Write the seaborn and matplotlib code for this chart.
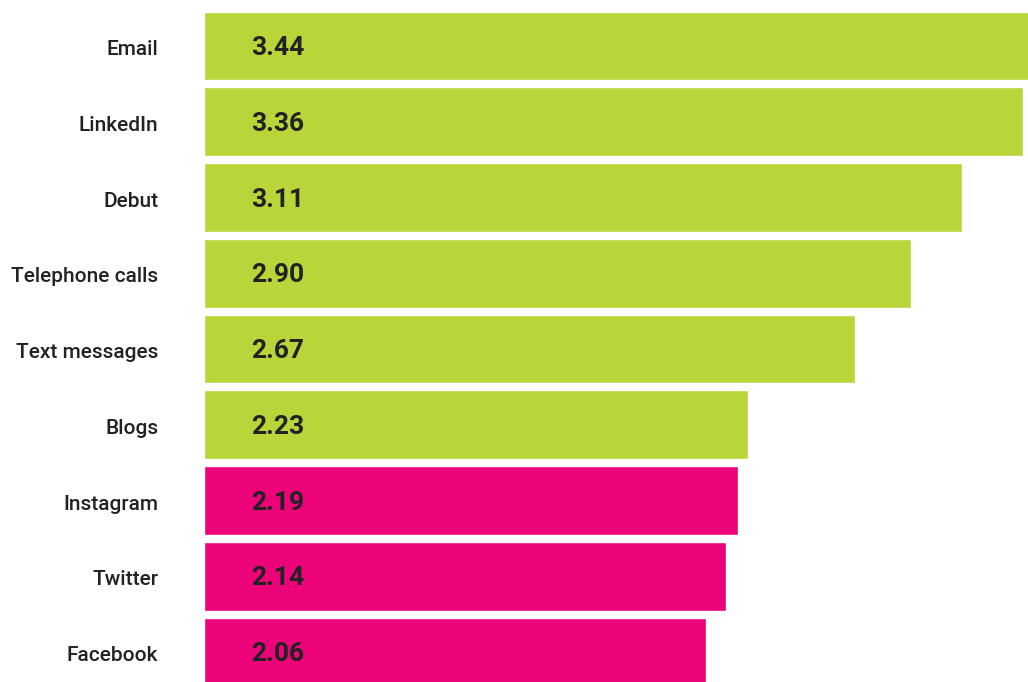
import matplotlib
matplotlib.use("Agg")
import matplotlib.pyplot as plt
import seaborn as sns
import pandas as pd

categories = ["Email", "LinkedIn", "Debut", "Telephone calls", "Text messages",
              "Blogs", "Instagram", "Twitter", "Facebook"]
values = [3.44, 3.36, 3.11, 2.90, 2.67, 2.23, 2.19, 2.14, 2.06]
groups = ["other", "other", "other", "other", "other", "other",
          "social", "social", "social"]
value_labels = ["3.44", "3.36", "3.11", "2.90", "2.67", "2.23", "2.19", "2.14", "2.06"]

df = pd.DataFrame({"channel": categories, "score": values, "group": groups})

sns.set_theme(style="white")
plt.rcParams["font.family"] = ["Roboto", "DejaVu Sans"]

fig = plt.figure(figsize=(10.28, 6.82), dpi=100)
ax = fig.add_axes([204 / 1028, -0.0115, (1028 - 204) / 1028, 0.99963])

sns.barplot(data=df, y="channel", x="score", hue="group", orient="h",
            palette={"other": "#b8d53a", "social": "#ec037a"},
            width=0.91, dodge=False, legend=False, ax=ax, saturation=1)

ax.set_xlim(0, 3.38)
ax.set_ylim(8.5, -0.5)
ax.set_xlabel("")
ax.set_ylabel("")
ax.set_xticks([])
for s in ax.spines.values():
    s.set_visible(False)
ax.tick_params(axis="y", length=0, pad=33, labelsize=15, labelcolor="#222222")
for t in ax.get_yticklabels():
    t.set_fontweight("medium")
    t.set_y(t.get_position()[1])
    t.set_transform(t.get_transform() + matplotlib.transforms.ScaledTranslation(0, -1.2 / 72, fig.dpi_scale_trans))

for i, lab in enumerate(value_labels):
    ax.annotate(lab, xy=(0, i), xytext=(34, -1.5), textcoords="offset points",
                ha="left", va="center", fontsize=19, fontweight="bold",
                color="#222222")

fig.savefig("out.png", dpi=100)
